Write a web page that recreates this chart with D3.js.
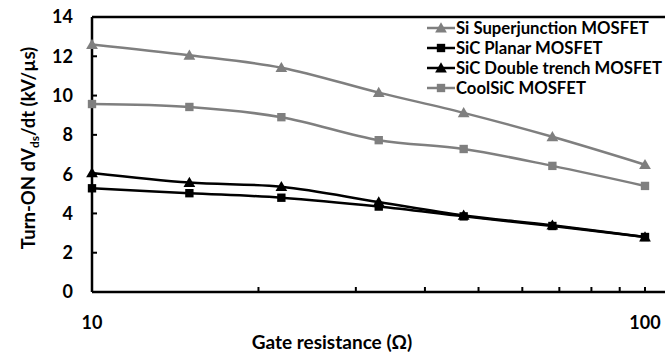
<!DOCTYPE html>
<html><head><meta charset="utf-8">
<script src="https://cdn.jsdelivr.net/npm/d3@7"></script>
<style>body{margin:0;background:#fff}svg{display:block;font-family:Lato,"Open Sans",sans-serif;font-weight:bold}</style>
</head><body><svg id="c" width="665" height="353"></svg>
<script>
const xValues = [10, 15, 22, 33, 47, 68, 100];
const siSuperjunction = [12.6, 12.05, 11.42, 10.15, 9.12, 7.9, 6.48];
const sicPlanar = [5.28, 5.03, 4.8, 4.35, 3.85, 3.36, 2.8];
const sicDoubleTrench = [6.06, 5.57, 5.36, 4.58, 3.9, 3.4, 2.8];
const coolSiC = [9.57, 9.42, 8.9, 7.73, 7.28, 6.42, 5.4];
const yTicks = [0, 2, 4, 6, 8, 10, 12, 14];
const xMinorTicks = [20, 30, 40, 50, 60, 70, 80, 90, 100];
const xTickLabels = [10, 100];
const seriesNames = ["Si Superjunction MOSFET", "SiC Planar MOSFET", "SiC Double trench MOSFET", "CoolSiC MOSFET"];

const series = [
  {name: seriesNames[0], values: siSuperjunction, color: "#7f7f7f", shape: "tri"},
  {name: seriesNames[1], values: sicPlanar, color: "#000000", shape: "sq"},
  {name: seriesNames[2], values: sicDoubleTrench, color: "#000000", shape: "tri"},
  {name: seriesNames[3], values: coolSiC, color: "#7f7f7f", shape: "sq"}
];

const svg = d3.select("#c");
const x = d3.scaleLog().domain([10, 100]).range([92, 645]);
const y = d3.scaleLinear().domain([0, 14]).range([292, 17]);

// frame lines
svg.append("line").attr("x1", 92).attr("x2", 665).attr("y1", y(14)).attr("y2", y(14)).attr("stroke", "#000").attr("stroke-width", 2.5);
svg.append("line").attr("x1", 92).attr("x2", 665).attr("y1", y(0)).attr("y2", y(0)).attr("stroke", "#000").attr("stroke-width", 2.5);
svg.append("line").attr("x1", 92).attr("x2", 92).attr("y1", y(14)).attr("y2", y(0)).attr("stroke", "#000").attr("stroke-width", 2.5);

// y ticks
svg.selectAll(".yt").data(yTicks.filter(d => d > 0 && d < 14)).enter().append("line")
  .attr("x1", 92).attr("x2", 97).attr("y1", d => y(d)).attr("y2", d => y(d)).attr("stroke", "#000").attr("stroke-width", 2);
svg.selectAll(".yl").data(yTicks).enter().append("text")
  .attr("x", 73).attr("y", d => y(d)).attr("dy", "0.36em").attr("text-anchor", "end")
  .attr("font-size", 18).text(d => d);

// x ticks
svg.selectAll(".xt").data(xMinorTicks).enter().append("line")
  .attr("x1", d => x(d)).attr("x2", d => x(d)).attr("y1", y(0)).attr("y2", y(0) - 5).attr("stroke", "#000").attr("stroke-width", 2);
svg.selectAll(".xl").data(xTickLabels).enter().append("text")
  .attr("x", d => x(d)).attr("y", 329).attr("text-anchor", "middle").attr("font-size", 18).text(d => d);

// axis titles
svg.append("text").attr("x", 332).attr("y", 349).attr("text-anchor", "middle").attr("font-size", 19).text("Gate resistance (Ω)");
const yt = svg.append("text").attr("transform", "translate(35,148) rotate(-90)").attr("text-anchor", "middle").attr("font-size", 18.5);
yt.append("tspan").text("Turn-ON dV");
yt.append("tspan").attr("font-size", 12).attr("dy", 4).text("ds");
yt.append("tspan").attr("dy", -4).text("/dt (kV/µs)");

// lines
const line = d3.line().x((d, i) => x(xValues[i])).y(d => y(d)).curve(d3.curveCatmullRom.alpha(0.5));
const triPath = d3.symbol().type(d3.symbolTriangle).size(60)();
const sqPath = d3.symbol().type(d3.symbolSquare).size(70)();

series.forEach(s => {
  svg.append("path").datum(s.values).attr("d", line).attr("fill", "none").attr("stroke", s.color).attr("stroke-width", 2.5);
});
series.forEach(s => {
  svg.selectAll(null).data(s.values).enter().append("path")
    .attr("d", s.shape === "tri" ? triPath : sqPath)
    .attr("transform", (d, i) => `translate(${x(xValues[i])},${y(d) + (s.shape === "tri" ? 1 : 0)})`)
    .attr("fill", s.color);
});

// legend
const legRows = [28, 48, 68, 88];
series.forEach((s, i) => {
  const g = svg.append("g").attr("transform", `translate(0,${legRows[i]})`);
  g.append("line").attr("x1", 427).attr("x2", 455).attr("y1", 0).attr("y2", 0).attr("stroke", s.color).attr("stroke-width", 2.5);
  g.append("path").attr("d", s.shape === "tri" ? triPath : sqPath).attr("transform", `translate(441,${s.shape === "tri" ? 1 : 0})`).attr("fill", s.color);
  g.append("text").attr("x", 456).attr("y", 0).attr("dy", "0.36em").attr("font-size", 16.7).text(s.name);
});
</script></body></html>
